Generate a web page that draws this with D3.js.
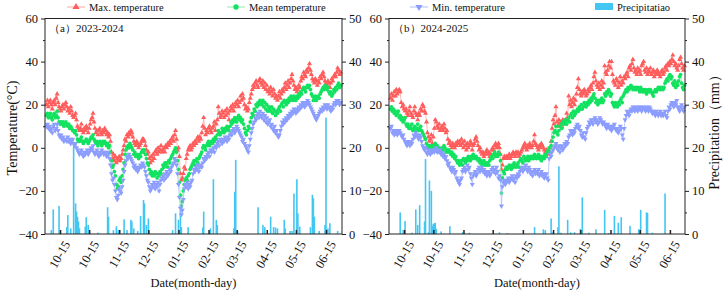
<!DOCTYPE html>
<html lang="en">
<head>
<meta charset="UTF-8">
<title>Temperature and precipitation 2023-2025</title>
<script src="https://d3js.org/d3.v7.min.js"></script>
<style>
  body { margin: 0; background: #fff; }
  svg { display: block; font-family: "Liberation Serif", "Times New Roman", serif; }
  .axis text { font-size: 12.5px; fill: #111; font-family: "Liberation Serif", serif; }
  .axis line { stroke: #222; }
  .frame { fill: none; stroke: #222; stroke-width: 1; }
</style>
</head>
<body>
<svg id="chart" width="726" height="295"></svg>
<script>
// x tick labels (as printed on the figure)
const tickLabels = ["10-15", "10-15", "11-15", "12-15", "01-15", "02-15", "03-15", "04-15", "05-15", "06-15"];
const tickMonths = [8, 9, 10, 11, 0, 1, 2, 3, 4, 5];

// 2023-2024, daily from Sep 1
const maxA = [
  20, 22, 19, 21, 22, 20, 18, 21, 22, 20,
  23, 25, 21, 19, 18, 17, 19, 20, 18, 20,
  21, 19, 17, 18, 16, 19, 17, 15, 14, 15,
  16, 13, 10, 9, 8, 9, 11, 8, 7, 9,
  8, 10, 9, 7, 9, 11, 13, 14, 16, 12,
  9, 7, 8, 6, 8, 9, 7, 6, 8, 7,
  9, 8, 6, 7, 5, 6, 3, -2, -5, -3,
  -6, -4, -7, -5, -6, -4, -6, -5, -3, -1,
  1, 4, 3, 6, 5, 7, 6, 8, 7, 5,
  3, 2, 1, 3, 2, 0, 1, 2, 3, 4,
  4, 3, 1, -1, -3, -2, -5, -7, -4, -6,
  -3, -5, -2, -1, -3, 0, -2, -1, 1, -2,
  -1, 0, -2, 1, 0, 2, 1, 3, 2, 4,
  5, 3, 6, 8, 4, -1, 0, -4, -12, -15,
  -14, -12, -9, -10, -5, -3, -1, 0, 1, -1,
  0, 2, 1, 3, 2, 4, 5, 3, 5, 4,
  7, 10, 14, 9, 6, 8, 7, 9, 10, 8,
  7, 9, 10, 12, 8, 11, 13, 19, 16, 14,
  15, 17, 16, 14, 17, 15, 18, 16, 13, 17,
  19, 18, 20, 17, 19, 21, 20, 22, 19, 21,
  24, 22, 25, 23, 20, 18, 19, 17, 18, 21,
  23, 25, 27, 29, 28, 30, 31, 29, 28, 31,
  32, 30, 29, 31, 28, 30, 27, 29, 26, 27,
  25, 28, 26, 24, 27, 25, 23, 24, 22, 24,
  26, 23, 25, 27, 26, 28, 30, 27, 29, 31,
  28, 30, 32, 34, 31, 29, 27, 28, 26, 27,
  29, 28, 31, 33, 32, 35, 34, 33, 36, 35,
  37, 39, 36, 34, 32, 31, 30, 32, 31, 29,
  31, 30, 33, 32, 34, 35, 33, 31, 30, 29,
  31, 30, 28, 30, 32, 31, 33, 34, 33, 35,
  37, 36, 34, 35
];
const meanA = [
  15, 16, 14, 15, 16, 14, 13, 15, 16, 14,
  15, 17, 14, 12, 11, 12, 11, 12, 10, 11,
  12, 11, 10, 11, 9, 10, 9, 8, 8, 7,
  8, 6, 4, 3, 3, 4, 5, 3, 2, 3,
  3, 4, 3, 2, 3, 4, 5, 5, 6, 4,
  3, 2, 3, 1, 2, 3, 2, 1, 3, 2,
  3, 2, 1, 2, 0, 1, -2, -6, -9, -8,
  -11, -13, -17, -19, -18, -15, -14, -16, -13, -10,
  -7, -3, -1, 0, 1, 0, 2, 1, 0, -1,
  -3, -2, -4, -3, -4, -5, -3, -4, -2, -1,
  -2, -1, -3, -5, -7, -8, -10, -12, -11, -13,
  -12, -13, -11, -12, -14, -12, -13, -11, -12, -10,
  -8, -9, -7, -8, -7, -9, -6, -7, -5, -4,
  -3, -2, -1, 0, -2, -6, -10, -16, -22, -27,
  -25, -20, -17, -15, -14, -15, -13, -12, -10, -9,
  -8, -7, -6, -8, -6, -5, -7, -5, -4, -3,
  -2, 0, 1, 0, -1, 1, 2, 3, 1, 2,
  3, 2, 4, 3, 5, 4, 6, 8, 7, 6,
  7, 9, 8, 7, 9, 8, 10, 9, 8, 10,
  12, 11, 13, 12, 14, 13, 12, 14, 15, 13,
  14, 12, 13, 11, 9, 7, 6, 8, 10, 9,
  12, 14, 16, 15, 18, 17, 20, 19, 21, 20,
  22, 21, 20, 22, 19, 21, 18, 20, 17, 19,
  18, 17, 19, 16, 18, 17, 15, 17, 16, 18,
  19, 17, 20, 21, 19, 22, 21, 20, 22, 21,
  23, 22, 24, 23, 22, 24, 23, 22, 24, 23,
  25, 24, 26, 25, 27, 28, 27, 26, 28, 29,
  28, 29, 27, 25, 24, 22, 23, 24, 22, 23,
  24, 23, 25, 26, 27, 28, 27, 29, 28, 27,
  28, 26, 25, 26, 24, 25, 27, 26, 28, 27,
  29, 30, 28, 29
];
const minA = [
  10, 11, 9, 10, 8, 9, 7, 10, 11, 8,
  9, 11, 8, 6, 5, 6, 4, 5, 3, 4,
  4, 3, 5, 3, 4, 2, 3, 4, 2, 1,
  2, 0, -1, -2, -3, -2, -1, -3, -4, -2,
  -3, -2, -1, -3, -2, -1, 0, -1, 1, -2,
  -3, -2, -1, -3, -4, -2, -3, -1, -2, -3,
  -2, -3, -4, -2, -3, -5, -8, -12, -15, -14,
  -17, -20, -23, -24, -22, -19, -20, -21, -18, -15,
  -11, -8, -6, -4, -5, -3, -4, -5, -6, -7,
  -9, -8, -10, -9, -11, -10, -9, -8, -9, -7,
  -8, -9, -11, -13, -15, -16, -18, -20, -19, -17,
  -18, -16, -19, -17, -18, -16, -20, -17, -15, -14,
  -13, -15, -12, -14, -11, -13, -12, -10, -11, -9,
  -8, -7, -5, -6, -8, -12, -17, -23, -28, -31,
  -29, -24, -19, -17, -18, -16, -19, -17, -18, -16,
  -15, -12, -10, -11, -9, -10, -8, -11, -9, -8,
  -9, -7, -5, -6, -4, -5, -3, -2, -4, -1,
  -2, -1, 0, -2, 1, 0, 2, 3, 1, 4,
  3, 2, 4, 3, 5, 4, 3, 5, 4, 6,
  7, 6, 8, 9, 7, 8, 10, 9, 8, 7,
  6, 5, 3, 4, 2, 1, 0, -1, -2, 1,
  4, 7, 9, 11, 12, 14, 13, 15, 16, 14,
  17, 15, 14, 16, 13, 15, 12, 14, 11, 12,
  13, 10, 11, 9, 8, 10, 7, 8, 6, 5,
  6, 8, 10, 12, 11, 13, 12, 14, 13, 15,
  14, 16, 15, 17, 16, 18, 17, 16, 18, 17,
  19, 18, 20, 19, 21, 20, 19, 21, 20, 22,
  21, 20, 19, 18, 17, 16, 15, 14, 13, 14,
  15, 16, 17, 18, 17, 19, 18, 20, 19, 18,
  20, 19, 18, 17, 19, 18, 20, 21, 20, 22,
  21, 22, 20, 21
];
// [day index, mm]
const rainA = [
  [5, 0.9], [7, 5.7], [13, 6.5], [21, 1.6], [22, 4.4], [25, 1.3], [28, 20.5], [30, 7.1], [31, 5.2],
  [32, 4.0], [33, 2.9], [34, 1.3], [40, 1.7], [41, 3.9], [43, 2.1], [53, 0.3], [63, 6.2], [64, 4.0],
  [69, 0.9], [72, 1.8], [74, 0.9], [80, 3.4], [83, 0.9], [87, 3.3], [88, 2.9], [90, 1.3], [94, 0.7],
  [97, 4.2], [100, 7.9], [101, 7.1], [103, 2.1], [105, 3.6], [130, 0.9], [133, 4.8], [136, 3.3],
  [138, 5.6], [139, 1.6], [146, 1.6], [161, 1.5], [162, 5.2], [169, 1.3], [172, 12.7], [175, 3.3],
  [176, 2.1], [193, 1.3], [194, 9.8], [195, 17.2], [197, 0.7], [218, 6.2], [223, 2.1], [225, 1.6],
  [231, 4.0], [234, 1.6], [236, 1.5], [238, 1.3], [245, 3.3], [246, 1.3], [251, 0.7], [253, 0.7],
  [255, 9.4], [258, 12.7], [259, 4.8], [261, 1.7], [272, 1.6], [274, 9.1], [275, 8.3], [276, 4.0],
  [281, 0.7], [287, 2.1], [288, 27], [290, 1.3], [292, 2.5], [300, 0.7]
];

// 2024-2025, daily from Sep 1
const maxB = [
  23, 25, 22, 24, 26, 24, 27, 25, 26, 27,
  26, 21, 19, 20, 18, 17, 18, 16, 15, 17,
  19, 16, 15, 14, 17, 19, 16, 15, 13, 16,
  15, 18, 17, 20, 19, 17, 16, 12, 7, 5,
  3, 4, 6, 2, 5, 9, 13, 12, 10, 9,
  11, 8, 9, 10, 8, 11, 9, 7, 8, 4,
  2, 3, 1, 0, 2, 1, 0, 2, 1, 3,
  2, 3, 1, 4, 2, 0, 3, 1, -1, 2,
  0, 1, 3, 2, -1, 1, 2, 4, 5, 3,
  1, -1, 0, -2, -3, -2, -4, -3, -2, -1,
  -3, -2, -4, -3, -1, 0, -1, 1, 2, 0,
  1, 2, 0, -3, -10, -8, -5, -4, -5, -4,
  -5, -4, -3, -5, -4, -3, -2, -3, -4, -2,
  -3, -2, -4, -3, -2, -1, 0, 1, 2, 0,
  -1, 1, 0, 2, 1, 0, 1, 3, 6, 2,
  1, 0, -1, 1, 0, 2, 1, 0, -1, -2,
  -1, -3, -2, -1, 0, 3, 9, 13, 11, 15,
  19, 12, 10, 13, 11, 12, 10, 13, 12, 11,
  13, 16, 14, 24, 20, 22, 19, 21, 23, 20,
  22, 25, 28, 32, 27, 25, 24, 26, 25, 27,
  26, 24, 25, 27, 26, 28, 29, 27, 30, 33,
  35, 31, 29, 28, 30, 27, 29, 31, 28, 30,
  38, 35, 34, 36, 38, 40, 37, 40, 34, 31,
  30, 29, 32, 31, 28, 30, 33, 29, 31, 30,
  33, 32, 34, 35, 33, 37, 38, 36, 39, 41,
  37, 35, 36, 34, 37, 35, 36, 34, 38, 39,
  40, 36, 35, 37, 34, 36, 35, 37, 34, 35,
  36, 33, 35, 34, 36, 35, 34, 33, 35, 36,
  34, 35, 37, 38, 36, 39, 38, 40, 39, 41,
  43, 40, 38, 39, 37, 36, 38, 41, 42, 39,
  37, 36, 38
];
const meanB = [
  18, 19, 17, 18, 16, 17, 15, 16, 17, 14,
  15, 13, 14, 12, 13, 14, 11, 10, 11, 9,
  10, 9, 11, 8, 9, 10, 8, 9, 11, 8,
  9, 10, 8, 7, 6, 5, 4, 2, 1, 0,
  1, 0, -1, 1, 0, 1, 2, 0, 1, -1,
  0, -1, -2, 0, -1, 1, 0, -2, -1, -2,
  -1, -2, -3, -2, -4, -3, -5, -4, -6, -7,
  -6, -8, -7, -6, -8, -5, -6, -7, -5, -6,
  -4, -5, -6, -4, -5, -3, -4, -5, -4, -5,
  -6, -5, -7, -6, -8, -7, -6, -8, -7, -8,
  -7, -8, -6, -5, -4, -5, -3, -2, -4, -3,
  -4, -2, -3, -6, -21, -14, -11, -12, -10, -9,
  -10, -9, -8, -9, -10, -8, -9, -7, -8, -9,
  -8, -7, -9, -6, -5, -6, -7, -4, -5, -6,
  -5, -4, -6, -5, -4, -5, -4, -5, -3, -4,
  -5, -4, -3, -5, -4, -6, -5, -4, -5, -3,
  -4, -2, -1, 0, -2, 1, 3, 5, 7, 8,
  10, 7, 6, 8, 10, 11, 9, 12, 11, 13,
  12, 11, 13, 14, 12, 15, 16, 14, 17, 15,
  16, 17, 18, 17, 19, 18, 20, 18, 19, 21,
  20, 19, 21, 20, 22, 21, 23, 22, 24, 25,
  23, 21, 22, 20, 22, 21, 22, 23, 21, 22,
  25, 24, 26, 25, 27, 26, 24, 25, 21, 20,
  19, 21, 20, 19, 21, 20, 22, 23, 21, 24,
  25, 26, 27, 26, 28, 27, 28, 29, 28, 27,
  28, 27, 28, 27, 28, 27, 26, 28, 27, 26,
  27, 26, 27, 25, 26, 27, 26, 27, 26, 25,
  24, 26, 27, 26, 27, 28, 27, 28, 27, 28,
  27, 28, 30, 31, 32, 31, 33, 34, 32, 33,
  30, 29, 31, 28, 30, 29, 31, 33, 34, 30,
  28, 27, 29
];
const minB = [
  9, 10, 7, 8, 6, 7, 8, 6, 7, 8,
  7, 6, 5, 6, 4, 3, 2, 1, 3, 2,
  1, 3, 2, 4, 6, 5, 7, 6, 5, 4,
  6, 5, 3, 1, 0, -1, 0, -2, -3, -1,
  -2, -3, -1, -2, -1, -2, -1, 0, -2, -1,
  -2, -1, -3, -2, -4, -3, -5, -4, -6, -8,
  -7, -9, -10, -11, -9, -10, -12, -11, -14, -15,
  -16, -17, -15, -14, -11, -10, -9, -11, -10, -8,
  -10, -9, -12, -14, -17, -13, -12, -11, -13, -12,
  -10, -9, -11, -10, -9, -11, -10, -12, -11, -13,
  -12, -11, -13, -12, -10, -9, -11, -10, -12, -9,
  -11, -14, -13, -15, -27, -18, -16, -15, -17, -16,
  -15, -14, -16, -15, -14, -13, -15, -14, -16, -13,
  -14, -12, -13, -11, -10, -9, -11, -10, -9, -8,
  -10, -11, -9, -10, -12, -11, -13, -11, -10, -12,
  -11, -12, -10, -13, -12, -11, -13, -12, -14, -13,
  -12, -14, -15, -5, -3, -4, -2, -1, 0, 1,
  2, 0, -1, 1, -2, 0, 1, -1, 0, 2,
  1, 3, 2, 5, 6, 8, 7, 6, 8, 7,
  9, 10, 11, 9, 10, 8, 6, 5, 7, 5,
  4, 7, 9, 10, 12, 11, 13, 12, 11, 13,
  14, 12, 13, 11, 12, 14, 13, 12, 11, 12,
  11, 10, 9, 11, 10, 9, 10, 8, 9, 10,
  11, 9, 8, 9, 7, 8, 10, 9, 6, 4,
  9, 13, 15, 17, 16, 15, 17, 18, 17, 19,
  18, 17, 19, 18, 17, 19, 18, 19, 17, 18,
  19, 18, 17, 19, 18, 17, 19, 18, 17, 16,
  17, 16, 15, 17, 16, 15, 16, 17, 15, 16,
  15, 16, 17, 15, 14, 17, 19, 18, 20, 21,
  20, 19, 21, 20, 22, 19, 18, 17, 19, 20,
  18, 17, 19
];
const rainB = [
  [10, 5.0], [13, 0.9], [15, 3.0], [22, 0.3], [26, 5.7], [28, 2.1], [30, 6.7], [35, 2.9], [36, 17.4],
  [39, 0.4], [40, 12.4], [42, 10.0], [43, 1.8], [44, 2.3], [45, 2.5], [46, 2.6], [47, 1.2], [52, 0.6],
  [61, 1.8], [74, 0.4], [81, 0.3], [112, 0.4], [120, 0.2], [148, 1.6], [157, 1.1], [159, 0.9],
  [165, 3.6], [167, 0.4], [172, 1.6], [173, 15.7], [175, 0.3], [182, 3.3], [185, 0.4], [189, 0.4],
  [195, 1.2], [197, 8.5], [204, 0.3], [211, 1.1], [220, 5.6], [224, 0.2], [230, 4.2], [234, 2.6],
  [237, 3.9], [246, 1.9], [255, 1.1], [257, 5.6], [263, 5.0], [264, 4.9], [269, 0.3], [282, 9.4]
];

const svg = d3.select("#chart");
const plotTop = 18.5, plotBottom = 234;

const colors = {
  max: "#ff5c5c", maxLine: "#ffa8a8",
  mean: "#12e260", meanLine: "#8af0b0",
  min: "#8b9dff", minLine: "#b0bcff",
  rain: "#42c6f4"
};

const panels = [
  { label: "（a）2023-2024", year: 2023, left: 45, right: 342, end: 304.5,
    maxT: maxA, meanT: meanA, minT: minA, rain: rainA },
  { label: "（b）2024-2025", year: 2024, left: 389, right: 685, end: 302.5,
    maxT: maxB, meanT: meanB, minT: minB, rain: rainB }
];

const yT = d3.scaleLinear().domain([-40, 60]).range([plotBottom, plotTop]);
const yP = d3.scaleLinear().domain([0, 50]).range([plotBottom, plotTop]);

const triUp = d3.symbol(d3.symbolTriangle, 11);
const dot = d3.symbol(d3.symbolCircle, 11);

panels.forEach(p => {
  const start = new Date(p.year, 8, 1);
  const x = d3.scaleLinear().domain([-1.5, p.end]).range([p.left, p.right]);
  const tickDays = tickMonths.map(m => d3.timeDay.count(start, new Date(m >= 8 ? p.year : p.year + 1, m, 15)));

  const g = svg.append("g");

  // precipitation bars
  g.append("g").selectAll("rect")
    .data(p.rain)
    .join("rect")
    .attr("x", d => x(d[0]) - 0.8)
    .attr("width", 1.6)
    .attr("y", d => yP(d[1]))
    .attr("height", d => yP(0) - yP(d[1]))
    .attr("fill", colors.rain);

  const series = [
    { vals: p.maxT, c: colors.max, lc: colors.maxLine, sym: triUp, rot: 0 },
    { vals: p.meanT, c: colors.mean, lc: colors.meanLine, sym: dot, rot: 0 },
    { vals: p.minT, c: colors.min, lc: colors.minLine, sym: triUp, rot: 180 }
  ];
  const line = d3.line().x((d, i) => x(i)).y(d => yT(d));

  series.forEach(s => {
    g.append("path")
      .datum(s.vals)
      .attr("fill", "none")
      .attr("stroke", s.lc)
      .attr("stroke-width", 0.8)
      .attr("d", line);
    g.append("g").selectAll("path")
      .data(s.vals)
      .join("path")
      .attr("d", s.sym)
      .attr("transform", (d, i) => `translate(${x(i)},${yT(d)}) rotate(${s.rot})`)
      .attr("fill", s.c);
  });

  // frame
  g.append("rect").attr("class", "frame")
    .attr("x", p.left).attr("y", plotTop)
    .attr("width", p.right - p.left).attr("height", plotBottom - plotTop);

  // left temperature axis
  g.append("g").attr("class", "axis").attr("transform", `translate(${p.left},0)`)
    .call(d3.axisLeft(yT).tickValues([-40, -20, 0, 20, 40, 60]).tickSize(4).tickPadding(3));
  g.append("g").attr("class", "axis").attr("transform", `translate(${p.left},0)`)
    .call(d3.axisLeft(yT).tickValues([-30, -10, 10, 30, 50]).tickSize(2).tickFormat(""));

  // right precipitation axis
  g.append("g").attr("class", "axis").attr("transform", `translate(${p.right},0)`)
    .call(d3.axisRight(yP).tickValues([0, 10, 20, 30, 40, 50]).tickSize(4).tickPadding(3));
  g.append("g").attr("class", "axis").attr("transform", `translate(${p.right},0)`)
    .call(d3.axisRight(yP).tickValues([5, 15, 25, 35, 45]).tickSize(2).tickFormat(""));

  // bottom date axis, ticks pointing inward
  const xa = g.append("g").attr("class", "axis").attr("transform", `translate(0,${plotBottom})`)
    .call(d3.axisBottom(x).tickValues(tickDays).tickSizeInner(-4).tickSizeOuter(0)
      .tickFormat((d, i) => tickLabels[i]));
  xa.selectAll("line").attr("stroke-width", 1.5);
  xa.selectAll("text")
    .attr("x", 10).attr("y", 10).attr("dy", 0)
    .attr("text-anchor", "end")
    .attr("transform", "rotate(-60 10 10)");

  g.selectAll(".axis .domain").remove();

  g.append("text")
    .attr("x", (p.left + p.right) / 2).attr("y", 287)
    .attr("text-anchor", "middle").attr("font-size", 12.5).attr("fill", "#111")
    .text("Date(month-day)");

  g.append("text")
    .attr("x", p.left + 4).attr("y", 32)
    .attr("font-size", 11).attr("fill", "#111")
    .text(p.label);
});

// axis titles
svg.append("text")
  .attr("transform", "translate(17,128) rotate(-90)")
  .attr("text-anchor", "middle").attr("font-size", 14).attr("fill", "#111")
  .text("Temperature(°C)");
svg.append("text")
  .attr("transform", "translate(719,129) rotate(-90)")
  .attr("text-anchor", "middle").attr("font-size", 14).attr("fill", "#111")
  .text("Precipitation（mm）");

// legend
const legend = svg.append("g").attr("font-size", 10.5).attr("fill", "#111");
const items = [
  { name: "Max. temperature", x: 67, c: colors.max, lc: colors.maxLine, type: d3.symbolTriangle, rot: 0 },
  { name: "Mean temperature", x: 227, c: colors.mean, lc: colors.meanLine, type: d3.symbolCircle, rot: 0 },
  { name: "Min. temperature", x: 410, c: colors.min, lc: colors.minLine, type: d3.symbolTriangle, rot: 180 }
];
items.forEach(it => {
  legend.append("line")
    .attr("x1", it.x).attr("x2", it.x + 18).attr("y1", 7).attr("y2", 7)
    .attr("stroke", it.lc).attr("stroke-width", 1);
  legend.append("path")
    .attr("d", d3.symbol(it.type, 22))
    .attr("transform", `translate(${it.x + 9},7) rotate(${it.rot})`)
    .attr("fill", it.c);
  legend.append("text").attr("x", it.x + 22).attr("y", 11).text(it.name);
});
legend.append("rect").attr("x", 595).attr("y", 3).attr("width", 18).attr("height", 7).attr("fill", colors.rain);
legend.append("text").attr("x", 617).attr("y", 11).text("Precipitatiao");
</script>
</body>
</html>
